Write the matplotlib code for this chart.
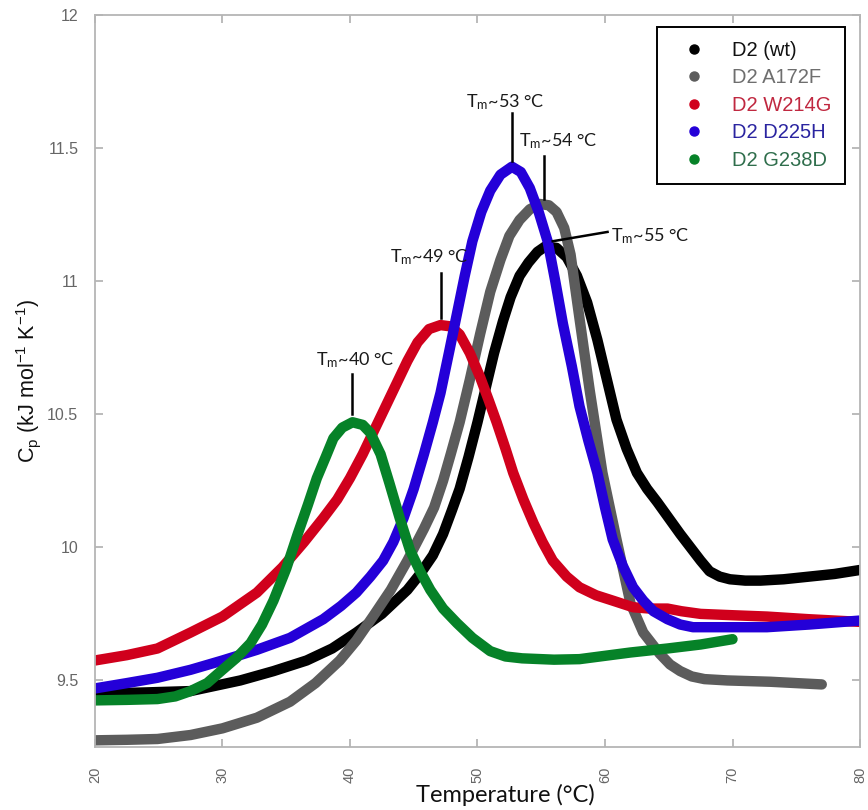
#!/usr/bin/env python3
import matplotlib
matplotlib.use("Agg")
import matplotlib.pyplot as plt
from matplotlib.lines import Line2D

# --- data (temperature in °C, Cp in kJ/mol/K) ---
wt_t = [20, 24, 27.5, 31.4, 34, 36.6, 38.6, 40.5, 42.5, 44.5, 45.5, 46.5,
        47.3, 48, 48.6, 49.3, 50, 50.7, 51.3, 52, 52.6, 53.3, 54, 54.7,
        55.3, 56.2, 57, 57.8, 58.6, 59.4, 60.2, 60.9, 61.7, 62.5, 63.3,
        64.1, 65, 65.9, 66.7, 67.5, 68.2, 69, 69.8, 71, 72.2, 74, 76, 78, 80]
wt_cp = [9.45, 9.455, 9.46, 9.50, 9.535, 9.575, 9.62, 9.68, 9.75, 9.84,
         9.9, 9.97, 10.05, 10.14, 10.22, 10.34, 10.47, 10.61, 10.73, 10.85,
         10.94, 11.02, 11.07, 11.11, 11.13, 11.125, 11.09, 11.02, 10.92,
         10.78, 10.62, 10.48, 10.37, 10.28, 10.22, 10.17, 10.11, 10.05,
         10.0, 9.95, 9.91, 9.89, 9.88, 9.875, 9.875, 9.88, 9.89, 9.9, 9.915]

a172f_t = [20, 22.5, 24.9, 27.5, 30, 32.7, 35.3, 37.3, 39.2, 40.5, 41.8,
           43.2, 44.5, 45.8, 46.6, 47.3, 47.9, 48.6, 49.4, 50.2, 51, 51.8,
           52.5, 53.3, 54.1, 54.9, 55.6, 56.2, 56.8, 57.3, 58, 58.8, 59.8,
           60.9, 62, 63, 64.3, 65.1, 65.9, 66.8, 67.8, 69.6, 73, 77]
a172f_cp = [9.275, 9.277, 9.28, 9.295, 9.32, 9.36, 9.42, 9.49, 9.575, 9.65,
            9.74, 9.84, 9.95, 10.07, 10.15, 10.25, 10.35, 10.47, 10.63,
            10.8, 10.96, 11.08, 11.17, 11.23, 11.27, 11.29, 11.285, 11.26,
            11.2, 11.1, 10.86, 10.59, 10.28, 10.03, 9.79, 9.68, 9.6, 9.56,
            9.535, 9.515, 9.505, 9.5, 9.495, 9.485]

w214g_t = [20, 22.5, 24.9, 27.5, 30, 32.7, 34.7, 36.4, 37.9, 39, 40, 41,
           41.8, 42.8, 43.7, 44.5, 45.3, 46.2, 47.1, 47.9, 48.6, 49.4, 50.2,
           50.9, 51.5, 52.2, 52.8, 53.6, 54.4, 55.1, 55.9, 57, 58, 59.3,
           60.6, 62.2, 63.5, 64.9, 66, 67.5, 70, 72.7, 76, 80]
w214g_cp = [9.575, 9.595, 9.62, 9.68, 9.74, 9.83, 9.925, 10.02, 10.11,
            10.18, 10.26, 10.35, 10.43, 10.53, 10.62, 10.7, 10.77, 10.82,
            10.835, 10.83, 10.8, 10.73, 10.64, 10.55, 10.47, 10.37, 10.28,
            10.18, 10.09, 10.02, 9.95, 9.89, 9.85, 9.82, 9.8, 9.775, 9.77,
            9.77, 9.76, 9.75, 9.745, 9.74, 9.73, 9.72]

d225h_t = [20, 22.5, 24.9, 27.5, 30, 32.7, 35.3, 37.9, 39.3, 40.5, 41.6,
           42.6, 43.4, 44.2, 45, 45.8, 46.5, 47.1, 47.8, 48.4, 49, 49.6,
           50.3, 51, 51.8, 52.7, 53.4, 54.1, 54.8, 55.5, 56.1, 56.7, 57.4,
           58, 58.7, 59.4, 60, 60.6, 61.4, 62.2, 63, 63.8, 64.9, 65.9, 66.9,
           70, 72.7, 76, 80]
d225h_cp = [9.47, 9.49, 9.51, 9.54, 9.575, 9.615, 9.66, 9.73, 9.78, 9.83,
            9.89, 9.95, 10.02, 10.11, 10.22, 10.35, 10.47, 10.58, 10.74,
            10.88, 11.02, 11.15, 11.26, 11.34, 11.4, 11.43, 11.41, 11.35,
            11.26, 11.15, 11.0, 10.84, 10.68, 10.53, 10.4, 10.28, 10.15,
            10.03, 9.93, 9.85, 9.8, 9.76, 9.73, 9.71, 9.7, 9.7, 9.7, 9.71,
            9.725]

g238d_t = [20, 22.5, 24.9, 26.3, 27.5, 28.8, 30, 31.1, 32.2, 33.1, 34, 35,
           35.9, 36.7, 37.4, 38.1, 38.7, 39.4, 40.2, 41, 41.6, 42.4, 43.1,
           43.9, 44.7, 45.5, 46.3, 47.3, 48.4, 49.6, 51, 52.2, 53.5, 56, 58,
           59.6, 62, 64.9, 67.5, 70]
g238d_cp = [9.425, 9.427, 9.43, 9.44, 9.46, 9.49, 9.54, 9.585, 9.64, 9.71,
            9.8, 9.92, 10.05, 10.16, 10.26, 10.34, 10.41, 10.45, 10.47,
            10.46, 10.43, 10.35, 10.24, 10.11, 9.99, 9.91, 9.84, 9.77, 9.715,
            9.66, 9.61, 9.59, 9.583, 9.578, 9.58, 9.59, 9.605, 9.62, 9.635,
            9.655]

series_names = ["D2 (wt)", "D2 A172F", "D2 W214G", "D2 D225H", "D2 G238D"]
line_colors = ["#000000", "#5c5c5c", "#d0001c", "#2400d8", "#068228"]
label_colors = ["#111111", "#6e6e6e", "#c02840", "#2a24a0", "#2f6e4c"]

# Tm labels: (text, text x, text y, line x0, y0, x1, y1)
tm_notes = [
    ("53", 52.15, 11.635, 52.7, 11.45, 52.7, 11.63),
    ("54", 56.3, 11.49, 55.2, 11.31, 55.2, 11.47),
    ("49", 46.2, 11.055, 47.1, 10.86, 47.1, 11.03),
    ("40", 40.4, 10.665, 40.15, 10.50, 40.15, 10.65),
]


def main() -> None:
    plt.rcParams["mathtext.default"] = "regular"

    fig = plt.figure(figsize=(8.68, 8.1), dpi=100)
    ax = fig.add_axes([0.1094, 0.0778, 0.8814, 0.9037])

    data = [(wt_t, wt_cp), (a172f_t, a172f_cp), (w214g_t, w214g_cp),
            (d225h_t, d225h_cp), (g238d_t, g238d_cp)]
    for (t, cp), col in zip(data, line_colors):
        ax.plot(t, cp, color=col, lw=7.5, solid_capstyle="round",
                solid_joinstyle="round")

    # Tm pointers
    for txt, tx, ty, x0, y0, x1, y1 in tm_notes:
        ax.plot([x0, x1], [y0, y1], color="black", lw=1.8)
        ax.text(tx, ty, "T$_m$~" + txt + " °C", family="Lato", fontsize=13,
                ha="center", va="bottom", color="#1a1a1a")
    ax.plot([55.9, 60.2], [11.15, 11.185], color="black", lw=1.8)
    ax.text(60.5, 11.17, "T$_m$~55 °C", family="Lato", fontsize=13,
            ha="left", va="center", color="#1a1a1a")

    ax.set_xlim(20, 80)
    ax.set_ylim(9.25, 12)
    ax.set_xticks([20, 30, 40, 50, 60, 70, 80])
    ax.set_yticks([9.5, 10, 10.5, 11, 11.5, 12])
    ax.set_yticklabels(["9.5", "10", "10.5", "11", "11.5", "12"])

    for side in ax.spines.values():
        side.set_color("#b5b5b5")
        side.set_linewidth(1.3)
    ax.tick_params(direction="in", length=6, width=1.1, color="#a8a8a8",
                   top=True, right=True, labelcolor="#666666")
    ax.tick_params(axis="x", pad=14, labelrotation=90, labelsize=10.5)
    ax.tick_params(axis="y", pad=12, labelsize=11.5)
    for lab in ax.get_xticklabels() + ax.get_yticklabels():
        lab.set_family("Liberation Sans")

    ax.set_xlabel("Temperature (°C)", family="Lato", fontsize=17,
                  color="#111111")
    ax.xaxis.set_label_coords(0.537, -0.051)
    ax.set_ylabel("C$_p$ (kJ mol$^{-1}$ K$^{-1}$)", family="Liberation Sans",
                  fontsize=15.5, color="#111111")
    ax.yaxis.set_label_coords(-0.068, 0.5)

    handles = [Line2D([], [], ls="none", marker="o", markersize=6.5,
                      color=c) for c in line_colors]
    leg = ax.legend(handles, series_names, loc="upper right",
                    bbox_to_anchor=(0.981, 0.984), frameon=True,
                    fancybox=False, framealpha=1, edgecolor="black",
                    prop={"family": "Liberation Sans", "size": 14.5},
                    labelspacing=0.42, handletextpad=0.8, borderpad=0.7,
                    handlelength=2.2, borderaxespad=0)
    leg.get_frame().set_linewidth(1.4)
    for txt, col in zip(leg.get_texts(), label_colors):
        txt.set_color(col)

    fig.savefig("out.png", dpi=100, facecolor="white")


if __name__ == "__main__":
    main()
